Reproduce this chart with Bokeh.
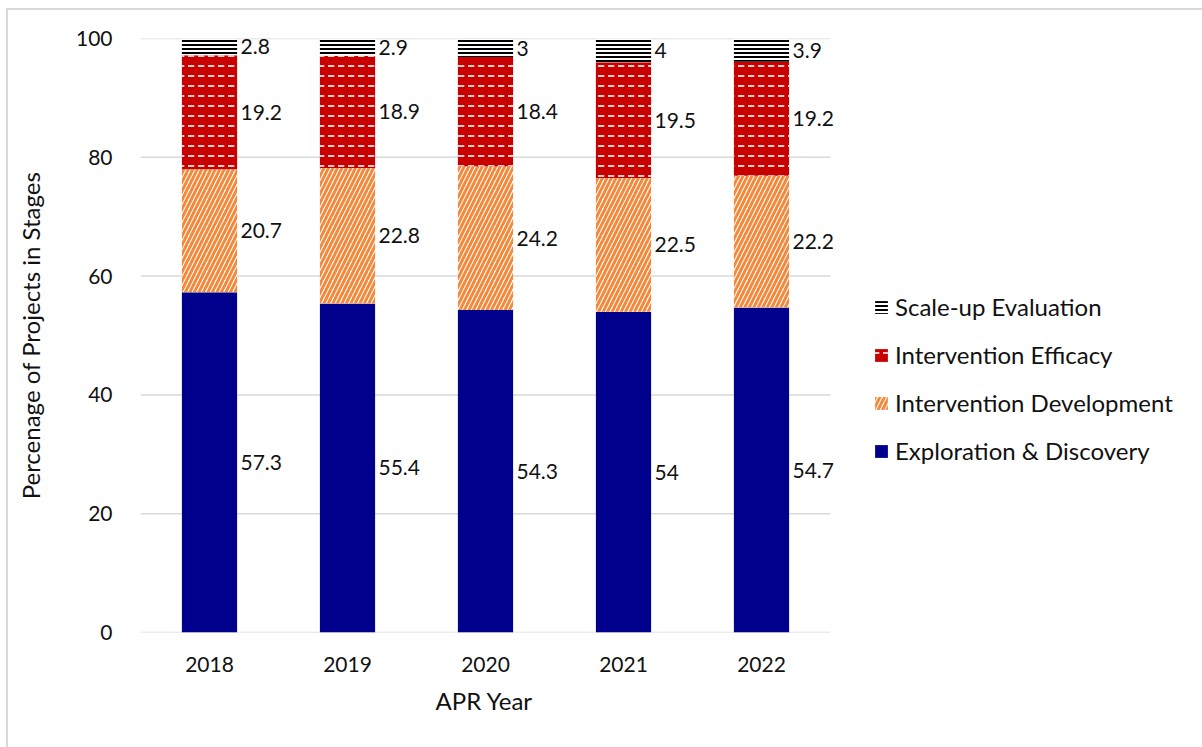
from bokeh.plotting import figure
from bokeh.models import (ColumnDataSource, Range1d, Legend, LegendItem,
                          LabelSet, FixedTicker, Title)
from bokeh.embed import file_html
from bokeh.resources import INLINE
from bokeh.core.properties import value

# ---- data ----
years = ["2018", "2019", "2020", "2021", "2022"]
exploration = [57.3, 55.4, 54.3, 54, 54.7]
development = [20.7, 22.8, 24.2, 22.5, 22.2]
efficacy = [19.2, 18.9, 18.4, 19.5, 19.2]
scaleup = [2.8, 2.9, 3, 4, 3.9]
series_names = ["Exploration & Discovery", "Intervention Development",
                "Intervention Efficacy", "Scale-up Evaluation"]
y_ticks = [0, 20, 40, 60, 80, 100]

FONT = "Lato"
TXT = "#111111"
GRID = "#D9D9D9"

xpos = list(range(1, len(years) + 1))          # category slots
CAT_PX = 138                                   # pixel width of one category slot
FRAME_W = 1058

styles = [
    dict(fill_color="#00008C"),
    dict(fill_color="white", hatch_pattern="right_diagonal_line",
         hatch_color="#F4893B", hatch_scale=9, hatch_weight=3),
    dict(fill_color="#C80000", hatch_pattern="horizontal_dash",
         hatch_color="white", hatch_scale=10, hatch_weight=1.6),
    dict(fill_color="white", hatch_pattern="horizontal_line",
         hatch_color="black", hatch_scale=4, hatch_weight=2),
]

p = figure(x_range=Range1d(0.5, 0.5 + FRAME_W / CAT_PX),
           y_range=Range1d(0, 100),
           frame_width=FRAME_W, frame_height=594,
           min_border_left=132, min_border_right=4,
           min_border_top=28, min_border_bottom=115,
           output_backend="svg", toolbar_location=None)
p.styles = {"border-left": "2px solid #D9D9D9", "border-top": "2px solid #D9D9D9",
            "margin-left": "6px", "margin-top": "8px"}
p.outline_line_color = None
p.background_fill_color = "white"
p.border_fill_color = "white"
p.xgrid.grid_line_color = None
p.ygrid.grid_line_color = None

# horizontal gridlines limited to the category area
n = len(years)
p.segment(x0=[0.5] * len(y_ticks), x1=[n + 0.5] * len(y_ticks), y0=y_ticks, y1=y_ticks,
          line_color=GRID, line_width=1.5)

series = [exploration, development, efficacy, scaleup]
bottom = [0.0] * n
renderers = []
for name, vals, st in zip(series_names, series, styles):
    top = [b + v for b, v in zip(bottom, vals)]
    mid = [(b + t) / 2 for b, t in zip(bottom, top)]
    src = ColumnDataSource(dict(x=xpos, bottom=bottom, top=top, mid=mid,
                                lab=[f"{v:g}" for v in vals]))
    r = p.vbar(x="x", bottom="bottom", top="top", width=0.4, source=src,
               line_color=None, **st)
    renderers.append((name, r))
    labels = LabelSet(x="x", y="mid", text="lab", source=src, x_offset=31,
                      text_align="left", text_baseline="middle",
                      text_font=value(FONT), text_font_size="21px", text_color=TXT)
    p.add_layout(labels)
    bottom = top

# axes
p.yaxis.ticker = FixedTicker(ticks=y_ticks)
p.yaxis.major_tick_line_color = None
p.yaxis.minor_tick_line_color = None
p.yaxis.axis_line_color = None
p.yaxis.major_label_standoff = 22
p.yaxis.axis_label = "Percenage of Projects in Stages"
p.yaxis.axis_label_standoff = 28

p.xaxis.ticker = FixedTicker(ticks=xpos)
p.xaxis.major_label_overrides = {x: y for x, y in zip(xpos, years)}
p.xaxis.axis_line_color = None
p.xaxis.major_tick_line_color = None
p.xaxis.minor_tick_line_color = None
p.xaxis.major_label_standoff = 18

for ax in (p.xaxis, p.yaxis):
    ax.major_label_text_font = FONT
    ax.major_label_text_font_size = "21px"
    ax.major_label_text_color = TXT
    ax.axis_label_text_font = FONT
    ax.axis_label_text_font_size = "24px"
    ax.axis_label_text_font_style = "normal"
    ax.axis_label_text_color = TXT

# x-axis title centred under the bars (frame is wider than the bar area)
xtitle = Title(text="APR Year", align="left", offset=295,
               text_font=FONT, text_font_size="24px", text_font_style="normal",
               text_color=TXT, standoff=18)
p.add_layout(xtitle, "below")

items = [LegendItem(label=nm, renderers=[r]) for nm, r in reversed(renderers)]
legend = Legend(items=items, location=(733, 167), orientation="vertical",
                glyph_width=16, glyph_height=16, label_standoff=6,
                label_height=21, spacing=19, padding=0, margin=0,
                border_line_color=None, background_fill_alpha=0,
                label_text_font=FONT, label_text_font_size="24px",
                label_text_color=TXT)
p.add_layout(legend)

open("out.html", "w").write(file_html(p, INLINE))
